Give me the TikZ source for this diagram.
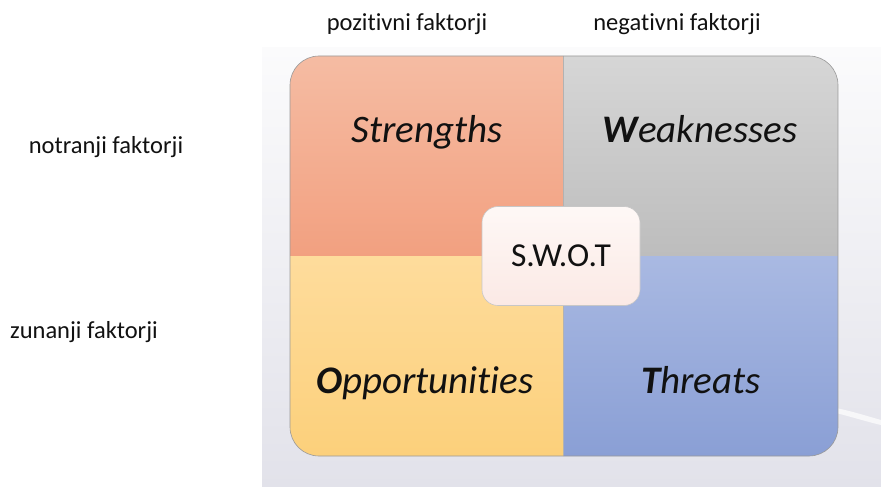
\documentclass[tikz,border=0pt]{standalone}
\usepackage{fontspec}
\setmainfont[Ligatures=NoCommon]{Carlito}
\definecolor{bgtop}{HTML}{FBFBFC}
\definecolor{bgbot}{HTML}{E2E2EA}
\definecolor{strA}{HTML}{F5BCA3}
\definecolor{strB}{HTML}{F2A080}
\definecolor{weaA}{HTML}{D6D6D6}
\definecolor{weaB}{HTML}{BDBDBD}
\definecolor{oppA}{HTML}{FEDC9C}
\definecolor{oppB}{HTML}{FCD07B}
\definecolor{thrA}{HTML}{A9B9E2}
\definecolor{thrB}{HTML}{8A9FD5}
\definecolor{swA}{HTML}{FEF8F6}
\definecolor{swB}{HTML}{FBE9E5}
\definecolor{ink}{HTML}{111111}
\begin{document}
\begin{tikzpicture}[x=1pt,y=-1pt,
  axislabel/.style={font=\fontsize{24.5}{29}\selectfont, text=ink, inner sep=0pt},
  quadlabel/.style={font=\fontsize{39}{46}\selectfont\itshape, text=ink, anchor=base, inner sep=0pt},
  swotbox/.style={rounded corners=16pt, top color=swA, bottom color=swB, draw=black!22,
    line width=0.6pt, minimum width=158pt, minimum height=99pt, inner sep=0pt,
    font=\fontsize{33.5}{39}\selectfont, text=ink},
  frame/.style={draw=black!40, line width=0.6pt}]
\useasboundingbox (0,0) rectangle (881,487);

% backdrop panel with a soft white sweep
\shade[top color=bgtop, bottom color=bgbot] (262,48) rectangle (881,487);
\fill[white, opacity=0.7] (836,408) .. controls (855,412) and (870,417) .. (881,420)
  -- (881,425) .. controls (868,422) and (852,417) .. (836,413) -- cycle;

% the four quadrants, clipped to one rounded square
\begin{scope}
  \clip[rounded corners=29pt] (290,56) rectangle (838,456);
  \shade[top color=strA, bottom color=strB] (290,56) rectangle (563,256);
  \shade[top color=weaA, bottom color=weaB] (563,56) rectangle (838,256);
  \shade[top color=oppA, bottom color=oppB] (290,256) rectangle (563,456);
  \shade[top color=thrA, bottom color=thrB] (563,256) rectangle (838,456);
\end{scope}
\coordinate (divtop) at (563,56);
\coordinate (divbot) at (563,456);
\draw[draw=black!30, line width=0.5pt] (divtop) -- (divbot);
\draw[frame, rounded corners=29pt] (290,56) rectangle (838,456);

% quadrant titles
\node[quadlabel] (S) at (427,142) {Strengths};
\node[quadlabel] (W) at (700,142) {\textbf{W}eaknesses};
\node[quadlabel] (O) at (425,393) {\textbf{O}pportunities};
\node[quadlabel] (T) at (701,393) {\textbf{T}hreats};

% centre badge
\node[swotbox] (swot) at (561,256) {S.W.O.T};

% axis captions
\node[axislabel] (pos) at (407,24) {pozitivni faktorji};
\node[axislabel] (neg) at (677,24) {negativni faktorji};
\node[axislabel] (int) at (106,147) {notranji faktorji};
\node[axislabel] (ext) at (84,332) {zunanji faktorji};
\end{tikzpicture}
\end{document}
